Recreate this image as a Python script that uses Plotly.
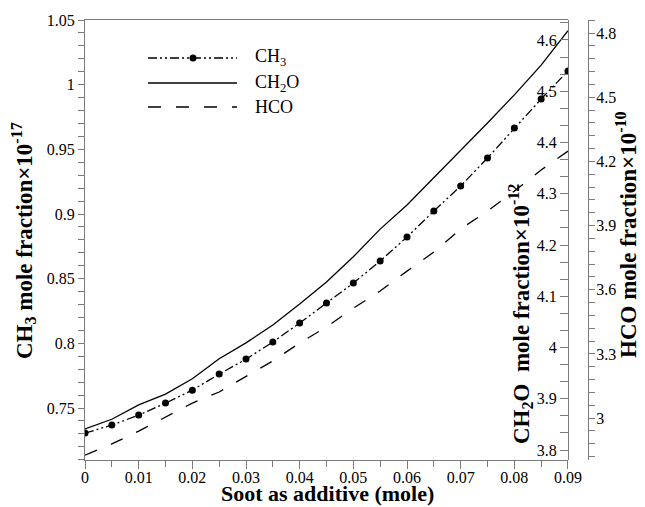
import plotly.graph_objects as go

# soot additive (mole)
soot = [0, 0.005, 0.01, 0.015, 0.02, 0.025, 0.03, 0.035, 0.04, 0.045,
        0.05, 0.055, 0.06, 0.065, 0.07, 0.075, 0.08, 0.085, 0.09]

# mole fractions
ch3 = [0.7306, 0.7368, 0.7445, 0.7538, 0.7638, 0.7762, 0.7878, 0.8010, 0.8157,
       0.8311, 0.8466, 0.8636, 0.8822, 0.9023, 0.9216, 0.9433, 0.9665, 0.9889, 1.0106]
ch2o = [3.841, 3.860, 3.888, 3.909, 3.939, 3.978, 4.009, 4.044, 4.085,
        4.128, 4.177, 4.231, 4.278, 4.331, 4.385, 4.438, 4.493, 4.551, 4.618]
hco = [2.827, 2.879, 2.939, 3.005, 3.070, 3.122, 3.196, 3.267, 3.351,
       3.426, 3.514, 3.594, 3.687, 3.776, 3.884, 3.968, 4.061, 4.160, 4.248]

W, H = 645, 507
ML, MR, MT, MB = 85, 57, 20, 47
PW, PH = W - ML - MR, H - MT - MB
XRIGHT = 568  # right edge of the framed area (CH2O axis)

SERIF = "Liberation Serif, Times New Roman, serif"
GREY = "#7a7a7a"
DASH_CH3 = "9px,3px,2px,3px,2px,3px"
DASH_HCO = "13px,15px"


def px(x):
    return (x - ML) / PW


def py(y):
    return (H - MB - y) / PH


fig = go.Figure()
fig.add_trace(go.Scatter(x=soot, y=ch3, mode="lines+markers", name="CH3",
                         line=dict(color="black", width=1.3, dash=DASH_CH3),
                         marker=dict(color="black", size=7)))
fig.add_trace(go.Scatter(x=soot, y=ch2o, mode="lines", name="CH2O", yaxis="y2",
                         line=dict(color="black", width=1.3)))
fig.add_trace(go.Scatter(x=soot, y=hco, mode="lines", name="HCO", yaxis="y3",
                         line=dict(color="black", width=1.3, dash=DASH_HCO)))

tickfont = dict(family=SERIF, size=16, color="black")
common = dict(showgrid=False, zeroline=False, showline=True, linecolor=GREY,
              linewidth=1, tickcolor=GREY, tickfont=tickfont)

fig.update_layout(
    width=W, height=H,
    margin=dict(l=ML, r=MR, t=MT, b=MB),
    plot_bgcolor="white", paper_bgcolor="white",
    showlegend=False,
    xaxis=dict(domain=[0, (XRIGHT - ML) / PW], range=[0, 0.090001], dtick=0.01,
               tick0=0, ticks="outside", ticklen=8, mirror=True, ticklabelstandoff=-5,
               minor=dict(dtick=0.005, ticklen=6, ticks="outside", tickcolor=GREY),
               **common),
    yaxis=dict(range=[0.7098, 1.05], dtick=0.05, tick0=0, ticks="outside", ticklen=6,
               minor=dict(dtick=0.01, ticklen=6, ticks="outside", tickcolor=GREY),
               **common),
    # CH2O axis sits on the right edge of the frame, ticks and labels pointing inwards
    yaxis2=dict(overlaying="y", side="left", anchor="free",
                position=(XRIGHT - ML) / PW, range=[3.7805, 4.639],
                dtick=0.1, tick0=3.8, ticks="outside", ticklen=8,
                minor=dict(dtick=0.1 / 3, tick0=3.8, ticklen=8, ticks="outside",
                           tickcolor=GREY),
                **common),
    yaxis3=dict(overlaying="y", side="right", anchor="free", position=1.0,
                range=[2.804, 4.861], dtick=0.3, tick0=3.0, ticks="outside", ticklen=6,
                ticklabelstandoff=-2,
                minor=dict(dtick=0.06, tick0=3.0, ticklen=6, ticks="outside",
                           tickcolor=GREY),
                **common),
)

title_font = dict(family=SERIF, size=23, color="black")
titles = [
    ("<b>CH<sub>3</sub> mole fraction×10<sup>-17</sup></b>", 24, 241, -90, 23),
    ("<b>CH<sub>2</sub>O\u00a0\u00a0mole fraction×10<sup>-12</sup></b>", 520, 314, -90, 23),
    ("<b>HCO mole fraction×10<sup>-10</sup></b>", 626, 235, -90, 23),
    ("<b>Soot as additive (mole)</b>", 327, 494, 0, 22),
]
for text, tx, ty, ang, size in titles:
    fig.add_annotation(x=px(tx), y=py(ty), xref="paper", yref="paper",
                       xanchor="center", yanchor="middle",
                       text=text, textangle=ang, showarrow=False,
                       font=dict(title_font, size=size))

# hand-drawn legend box (top left)
legend_rows = [("CH<sub>3</sub>", 58, DASH_CH3), ("CH<sub>2</sub>O", 83, "solid"),
               ("HCO", 107, DASH_HCO)]
for label, ry, dash in legend_rows:
    fig.add_shape(type="line", xref="paper", yref="paper",
                  x0=px(148), x1=px(237), y0=py(ry), y1=py(ry),
                  line=dict(color="black", width=1.3, dash=dash))
    fig.add_annotation(x=px(253), y=py(ry), xref="paper", yref="paper",
                       text=label, xanchor="left", yanchor="middle", showarrow=False,
                       font=dict(family=SERIF, size=18, color="black"))
fig.add_shape(type="circle", xref="paper", yref="paper",
              xsizemode="pixel", ysizemode="pixel",
              xanchor=px(193), yanchor=py(58), x0=-3.5, x1=3.5, y0=-3.5, y1=3.5,
              fillcolor="black", line=dict(color="black", width=0))

fig.write_html("out.html", config={"displayModeBar": False},
               post_script="document.body.style.margin='0';")
